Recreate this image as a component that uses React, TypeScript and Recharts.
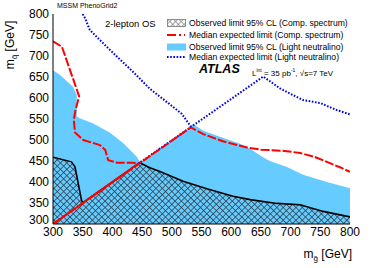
import React from 'react';
import { ComposedChart, Area, Line, XAxis, YAxis } from 'recharts';

const majorTicks = [300, 350, 400, 450, 500, 550, 600, 650, 700, 750, 800];
const minorTicks = Array.from({ length: 51 }, (_, i) => 300 + i * 10);

// Observed limit 95% CL (Light neutralino) - blue fill
const obsLight = [
  { x: 300, y: 666 }, { x: 312, y: 655 }, { x: 334, y: 626 }, { x: 340, y: 607 },
  { x: 340, y: 556 }, { x: 345, y: 552 }, { x: 367, y: 540 }, { x: 396, y: 517 },
  { x: 418, y: 493 }, { x: 441, y: 460 }, { x: 447, y: 447 }, { x: 528, y: 528 },
  { x: 536, y: 538 }, { x: 553, y: 522 }, { x: 587, y: 505 }, { x: 615, y: 491 },
  { x: 632, y: 479 }, { x: 650, y: 462 }, { x: 665, y: 450 }, { x: 694, y: 436 },
  { x: 721, y: 417 }, { x: 761, y: 400 }, { x: 800, y: 385 },
];

// Observed limit 95% CL (Comp. spectrum) - hatched
const obsComp = [
  { x: 300, y: 459 }, { x: 331, y: 448 }, { x: 337, y: 436 }, { x: 348, y: 357 },
  { x: 350, y: 350 }, { x: 446, y: 446 }, { x: 463, y: 434 }, { x: 480, y: 425 },
  { x: 519, y: 402 }, { x: 559, y: 384 }, { x: 603, y: 366 }, { x: 632, y: 358 },
  { x: 677, y: 349 }, { x: 716, y: 346 }, { x: 755, y: 330 }, { x: 800, y: 317 },
];

// Median expected limit (Comp. spectrum) - red dashed, two branches
const expCompA = [
  { x: 300, y: 735 }, { x: 315, y: 722 }, { x: 344, y: 604 }, { x: 338, y: 572 },
  { x: 335, y: 548 }, { x: 337, y: 518 }, { x: 351, y: 500 }, { x: 379, y: 488 },
  { x: 388, y: 476 }, { x: 393, y: 452 }, { x: 408, y: 446 }, { x: 435, y: 446 },
  { x: 443, y: 443 }, { x: 300, y: 300 },
];
const expCompB = [
  { x: 300, y: 300 }, { x: 532, y: 530 }, { x: 553, y: 514 }, { x: 586, y: 497 },
  { x: 627, y: 482 }, { x: 650, y: 477 }, { x: 690, y: 474 }, { x: 716, y: 469 },
  { x: 740, y: 460 }, { x: 761, y: 448 }, { x: 785, y: 434 }, { x: 800, y: 424 },
];

// Median expected limit (Light neutralino) - blue dotted, two branches
const expLightA = [
  { x: 350, y: 800 }, { x: 354, y: 790 }, { x: 362, y: 762 }, { x: 384, y: 731 },
  { x: 408, y: 698 }, { x: 435, y: 662 }, { x: 463, y: 622 }, { x: 492, y: 590 },
  { x: 517, y: 562 }, { x: 532, y: 532 },
];
const expLightB = [
  { x: 443, y: 443 }, { x: 654, y: 651 }, { x: 682, y: 623 }, { x: 704, y: 607 },
  { x: 721, y: 595 }, { x: 750, y: 588 }, { x: 778, y: 571 }, { x: 800, y: 561 },
];

const legendItems = [
  { label: 'Observed limit 95% CL (Comp. spectrum)', kind: 'hatch' },
  { label: 'Median expected limit (Comp. spectrum)', kind: 'red' },
  { label: 'Observed limit 95% CL (Light neutralino)', kind: 'blue' },
  { label: 'Median expected limit (Light neutralino)', kind: 'dots' },
];
const legendRows = [23, 35, 47, 57];

const FONT = '"Liberation Sans", Arial, Helvetica, sans-serif';
const BLUE_FILL = '#66ccff';
const axisDomain: [number, number] = [300, 800];

const Swatch = ({ kind }: { kind: string }) => (
  <svg width={19} height={10} style={{ display: 'block' }}>
    {kind === 'hatch' && (
      <rect x={0.5} y={1.5} width={18} height={7} fill="url(#xhatchLeg)" stroke="#777" strokeWidth={0.8} />
    )}
    {kind === 'red' && (
      <line x1={0} y1={5} x2={18} y2={5} stroke="#ff0000" strokeWidth={2} strokeDasharray="9 3 2 3" />
    )}
    {kind === 'blue' && <rect x={0} y={1.5} width={19} height={7} fill={BLUE_FILL} />}
    {kind === 'dots' && (
      <line x1={0} y1={5} x2={19} y2={5} stroke="#0000ee" strokeWidth={2} strokeDasharray="1.6 1.6" />
    )}
  </svg>
);

// y tick labels; the lowest one is nudged up a little so it clears the x-axis "300"
const YTick = (props: any) => {
  const { x, y, payload } = props;
  const lift = payload.value === 300 ? 4 : 0;
  return (
    <text x={x} y={y - lift} dy={4} textAnchor="end" fill="#000" fontSize={12} fontFamily={FONT}>
      {payload.value}
    </text>
  );
};

export default function App() {
  return (
    <div style={{ position: 'absolute', left: 0, top: 0, width: 374, height: 268, background: '#fff', fontFamily: FONT }}>
      <svg width={1} height={1} style={{ position: 'absolute', left: 0, top: 0 }}>
        <defs>
          <pattern id="xhatch" width={4.5} height={4.5} patternUnits="userSpaceOnUse" patternTransform="rotate(45)">
            <rect width={4.5} height={4.5} fill={BLUE_FILL} />
            <path d="M0 0.4 L4.5 0.4 M0.4 0 L0.4 4.5" stroke="#2c3e4a" strokeWidth={0.8} />
          </pattern>
          <pattern id="xhatchLeg" width={4} height={4} patternUnits="userSpaceOnUse" patternTransform="rotate(45)">
            <rect width={4} height={4} fill="#fff" />
            <path d="M0 0.4 L4 0.4 M0.4 0 L0.4 4" stroke="#777" strokeWidth={0.7} />
          </pattern>
        </defs>
      </svg>

      <ComposedChart width={374} height={268} margin={{ top: 14, right: 24, bottom: 0, left: 0 }}>
        <XAxis
          dataKey="x" type="number" domain={axisDomain} allowDataOverflow ticks={majorTicks} interval={0}
          height={44} tickSize={0} tickMargin={3} tickLine={false}
          axisLine={{ stroke: '#000' }}
          tick={{ fill: '#000', fontSize: 12, fontFamily: FONT }}
        />
        <XAxis xAxisId="bmin" dataKey="x" type="number" domain={axisDomain} allowDataOverflow ticks={minorTicks}
          interval={0} mirror height={0} tickSize={4} tick={false} axisLine={false} tickLine={{ stroke: '#000' }} />
        <XAxis xAxisId="bmaj" dataKey="x" type="number" domain={axisDomain} allowDataOverflow ticks={majorTicks}
          interval={0} mirror height={0} tickSize={8} tick={false} axisLine={false} tickLine={{ stroke: '#000' }} />
        <XAxis xAxisId="tmin" orientation="top" dataKey="x" type="number" domain={axisDomain} allowDataOverflow
          ticks={minorTicks} interval={0} mirror height={0} tickSize={4} tick={false} axisLine={{ stroke: '#000' }}
          tickLine={{ stroke: '#000' }} />
        <XAxis xAxisId="tmaj" orientation="top" dataKey="x" type="number" domain={axisDomain} allowDataOverflow
          ticks={majorTicks} interval={0} mirror height={0} tickSize={8} tick={false} axisLine={false}
          tickLine={{ stroke: '#000' }} />

        <YAxis
          dataKey="y" type="number" domain={axisDomain} allowDataOverflow ticks={majorTicks} interval={0}
          width={53} tickSize={0} tickMargin={4} tickLine={false}
          axisLine={{ stroke: '#000' }}
          tick={<YTick />}
        />
        <YAxis yAxisId="lmin" dataKey="y" type="number" domain={axisDomain} allowDataOverflow ticks={minorTicks}
          interval={0} mirror width={0} tickSize={4} tick={false} axisLine={false} tickLine={{ stroke: '#000' }} />
        <YAxis yAxisId="lmaj" dataKey="y" type="number" domain={axisDomain} allowDataOverflow ticks={majorTicks}
          interval={0} mirror width={0} tickSize={8} tick={false} axisLine={false} tickLine={{ stroke: '#000' }} />
        <YAxis yAxisId="rmin" orientation="right" dataKey="y" type="number" domain={axisDomain} allowDataOverflow
          ticks={minorTicks} interval={0} mirror width={0} tickSize={4} tick={false} axisLine={{ stroke: '#000' }}
          tickLine={{ stroke: '#000' }} />
        <YAxis yAxisId="rmaj" orientation="right" dataKey="y" type="number" domain={axisDomain} allowDataOverflow
          ticks={majorTicks} interval={0} mirror width={0} tickSize={8} tick={false} axisLine={false}
          tickLine={{ stroke: '#000' }} />

        <Area data={obsLight} dataKey="y" type="linear" fill={BLUE_FILL} fillOpacity={1} stroke="none"
          isAnimationActive={false} />
        <Area data={obsComp} dataKey="y" type="linear" fill="url(#xhatch)" fillOpacity={1} stroke="#000"
          strokeWidth={1.6} isAnimationActive={false} />
        <Line data={expLightB} dataKey="y" type="linear" stroke="#0000ee" strokeWidth={2}
          strokeDasharray="1.6 1.6" dot={false} isAnimationActive={false} />
        <Line data={expCompA} dataKey="y" type="linear" stroke="#ff0000" strokeWidth={2}
          strokeDasharray="9 2" dot={false} isAnimationActive={false} />
        <Line data={expCompB} dataKey="y" type="linear" stroke="#ff0000" strokeWidth={2}
          strokeDasharray="9 2" dot={false} isAnimationActive={false} />
        <Line data={expLightA} dataKey="y" type="linear" stroke="#0000ee" strokeWidth={2}
          strokeDasharray="1.6 1.6" dot={false} isAnimationActive={false} />
      </ComposedChart>

      <div style={{ position: 'absolute', left: 57, top: 1, fontSize: 7, lineHeight: '10px', color: '#000' }}>
        MSSM PhenoGrid2
      </div>
      <div style={{ position: 'absolute', left: 105, top: 18, fontSize: 9.5, lineHeight: '12px', color: '#000' }}>
        2-lepton OS
      </div>

      {legendItems.map((item, i) => (
        <div key={item.label} style={{ position: 'absolute', left: 167, top: legendRows[i] - 6, height: 12,
          display: 'flex', alignItems: 'center', whiteSpace: 'nowrap', fontSize: 8.6, color: '#000' }}>
          <Swatch kind={item.kind} />
          <span style={{ marginLeft: 3 }}>{item.label}</span>
        </div>
      ))}

      <div style={{ position: 'absolute', left: 199, top: 61, fontSize: 12.5, lineHeight: '16px',
        fontWeight: 'bold', fontStyle: 'italic', color: '#000' }}>
        ATLAS
      </div>
      <div style={{ position: 'absolute', left: 252, top: 64, fontSize: 8, lineHeight: '12px', color: '#000', whiteSpace: 'nowrap' }}>
        L<sup style={{ fontSize: 5 }}>int</sup> = 35 pb<sup style={{ fontSize: 5 }}>-1</sup>, √s=7 TeV
      </div>

      <div style={{ position: 'absolute', left: -30, top: 37, width: 80, height: 16, lineHeight: '16px',
        textAlign: 'center', transform: 'rotate(-90deg)', fontSize: 12, color: '#000', whiteSpace: 'nowrap' }}>
        m<sub style={{ fontSize: 8 }}>q̃</sub> [GeV]
      </div>
      <div style={{ position: 'absolute', right: 22, top: 246, fontSize: 12, lineHeight: '16px', color: '#000', whiteSpace: 'nowrap' }}>
        m<sub style={{ fontSize: 8 }}>g̃</sub> [GeV]
      </div>
    </div>
  );
}
